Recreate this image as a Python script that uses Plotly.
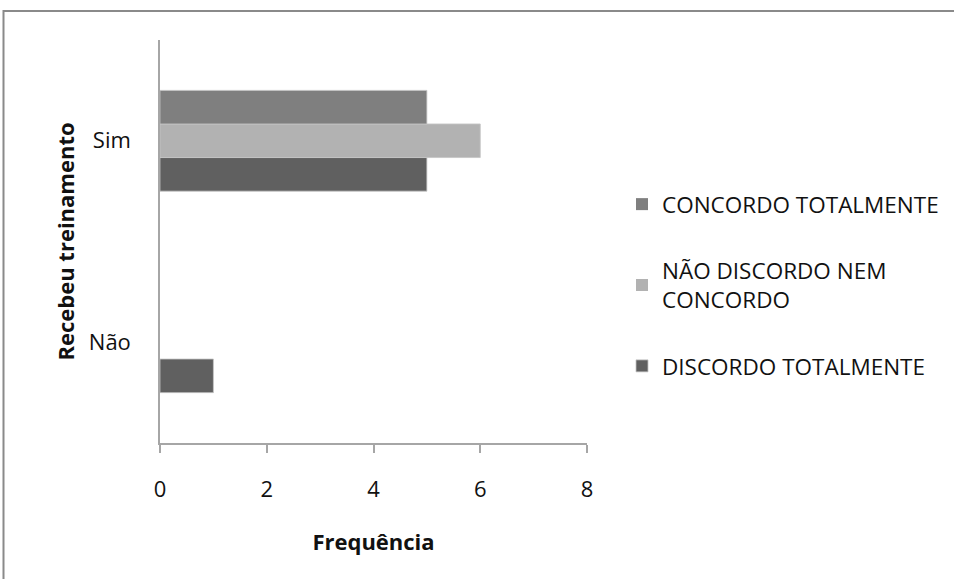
import plotly.graph_objects as go

categories = ["Não", "Sim"]
series_names = ["DISCORDO TOTALMENTE", "NÃO DISCORDO NEM<br>CONCORDO", "CONCORDO TOTALMENTE"]
discordo = [1, 5]
neutro = [0, 6]
concordo = [0, 5]
x_ticks = [0, 2, 4, 6, 8]

colors = ["#606060", "#b2b2b2", "#7f7f7f"]
values = [discordo, neutro, concordo]
ranks = [3, 2, 1]

W, H = 954, 579
L, R, T, B = 160, 587, 40, 443

fig = go.Figure()
for name, vals, col, rk in zip(series_names, values, colors, ranks):
    fig.add_trace(go.Bar(
        y=categories, x=vals, name=name, orientation="h",
        marker=dict(color=col, line=dict(color="#c4c4c4",
                                         width=[0.8 if v > 0 else 0 for v in vals])),
        legendgroup=name, legendrank=rk,
    ))

def px_x(p):
    return (p - L) / (R - L)

def px_y(p):
    return (B - p) / (B - T)

fig.add_shape(type="rect", xref="paper", yref="paper",
              x0=px_x(3.5), x1=px_x(1000), y0=px_y(700), y1=px_y(11),
              line=dict(color="#8a8a8a", width=2), fillcolor="rgba(0,0,0,0)", layer="below")

font_family = "Open Sans, Noto Sans, sans-serif"

fig.update_layout(
    width=W, height=H,
    margin=dict(l=L, r=W - R, t=T, b=H - B, pad=0, autoexpand=False),
    paper_bgcolor="white", plot_bgcolor="white",
    barmode="group", bargap=0.5, bargroupgap=0,
    font=dict(family=font_family, size=22, color="#222"),
    showlegend=True,
    legend=dict(x=px_x(622), y=px_y(285), xanchor="left", yanchor="middle",
                traceorder="grouped", tracegroupgap=34,
                font=dict(size=22.5, color="#111"), itemwidth=30),
    xaxis=dict(range=[0, 8], tickvals=x_ticks, ticktext=[str(v) for v in x_ticks],
               showgrid=False, zeroline=False, showline=True, linecolor="#a6a6a6", linewidth=1.5,
               ticks="outside", ticklen=8, tickcolor="#a6a6a6", tickwidth=1.5,
               tickfont=dict(size=22, color="#111"), ticklabelstandoff=18,
               title=dict(text="<b>Frequência</b>", font=dict(size=22, color="#111"), standoff=32)),
    yaxis=dict(categoryorder="array", categoryarray=categories,
               showgrid=False, zeroline=False, showline=True, linecolor="#a6a6a6", linewidth=1.5,
               ticks="", tickfont=dict(size=22, color="#111"), ticklabelstandoff=23,
               title=dict(text="<b>Recebeu treinamento</b>", font=dict(size=22, color="#111"), standoff=8)),
)

fig.write_html("out.html", config={"displayModeBar": False},
               post_script="document.body.style.margin='0';document.body.style.overflow='hidden';")
